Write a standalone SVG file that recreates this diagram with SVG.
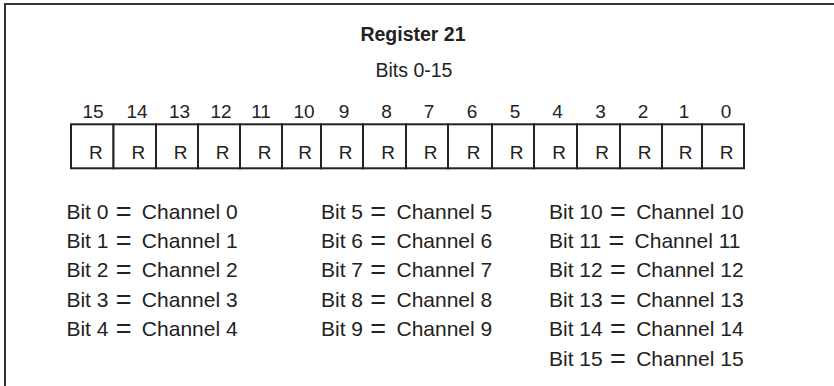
<svg xmlns="http://www.w3.org/2000/svg" width="834" height="386" viewBox="0 0 834 386">
<style>
text{font-family:"Liberation Sans",Arial,Helvetica,sans-serif;fill:#222}
.title{font-size:19.5px;font-weight:bold;text-anchor:middle}
.sub{font-size:19.5px;text-anchor:middle}
.num{font-size:19px;text-anchor:middle}
.r{font-size:19px;text-anchor:middle}
.bit{font-size:21px}
.eq{font-size:27px}
.frame{fill:none;stroke:#333;stroke-width:2}
.cell{fill:#fff;stroke:#222;stroke-width:2}
</style>
<rect width="834" height="386" fill="#fff"/>
<g id="frame">
<polyline class="frame" points="5,386 5,4 834,4"/>
</g>
<g id="header">
<text class="title" x="413" y="40.7">Register 21</text>
<text class="sub" x="414" y="76.7">Bits 0-15</text>
</g>
<g id="register">
<rect class="cell" x="71" y="124.3" width="42.5" height="44"/>
<rect class="cell" x="113.5" y="124.3" width="42.5" height="44"/>
<rect class="cell" x="156" y="124.3" width="42" height="44"/>
<rect class="cell" x="198" y="124.3" width="42" height="44"/>
<rect class="cell" x="240" y="124.3" width="42" height="44"/>
<rect class="cell" x="282" y="124.3" width="39" height="44"/>
<rect class="cell" x="321" y="124.3" width="42" height="44"/>
<rect class="cell" x="363" y="124.3" width="43" height="44"/>
<rect class="cell" x="406" y="124.3" width="42" height="44"/>
<rect class="cell" x="448" y="124.3" width="44" height="44"/>
<rect class="cell" x="492" y="124.3" width="42" height="44"/>
<rect class="cell" x="534" y="124.3" width="43" height="44"/>
<rect class="cell" x="577" y="124.3" width="43" height="44"/>
<rect class="cell" x="620" y="124.3" width="42" height="44"/>
<rect class="cell" x="662" y="124.3" width="40" height="44"/>
<rect class="cell" x="702" y="124.3" width="42" height="44"/>
<text class="num" x="93" y="118">15</text>
<text class="num" x="137" y="118">14</text>
<text class="num" x="179.5" y="118">13</text>
<text class="num" x="221" y="118">12</text>
<text class="num" x="261" y="118">11</text>
<text class="num" x="304" y="118">10</text>
<text class="num" x="344" y="118">9</text>
<text class="num" x="386.5" y="118">8</text>
<text class="num" x="429" y="118">7</text>
<text class="num" x="472" y="118">6</text>
<text class="num" x="515" y="118">5</text>
<text class="num" x="557.5" y="118">4</text>
<text class="num" x="600.5" y="118">3</text>
<text class="num" x="643" y="118">2</text>
<text class="num" x="684" y="118">1</text>
<text class="num" x="726" y="118">0</text>
<text class="r" x="95.75" y="159">R</text>
<text class="r" x="138.25" y="159">R</text>
<text class="r" x="180.5" y="159">R</text>
<text class="r" x="222.5" y="159">R</text>
<text class="r" x="264.5" y="159">R</text>
<text class="r" x="305" y="159">R</text>
<text class="r" x="345.5" y="159">R</text>
<text class="r" x="388" y="159">R</text>
<text class="r" x="430.5" y="159">R</text>
<text class="r" x="473.5" y="159">R</text>
<text class="r" x="516.5" y="159">R</text>
<text class="r" x="559" y="159">R</text>
<text class="r" x="602" y="159">R</text>
<text class="r" x="644.5" y="159">R</text>
<text class="r" x="685.5" y="159">R</text>
<text class="r" x="726.5" y="159">R</text>
</g>
<g id="legend-col1">
<text class="bit" x="66.4" y="218.5">Bit 0 <tspan class="eq" dx="1.5" dy="2">=</tspan><tspan dx="4.5" dy="-2"> Channel 0</tspan></text>
<text class="bit" x="66.4" y="248">Bit 1 <tspan class="eq" dx="1.5" dy="2">=</tspan><tspan dx="4.5" dy="-2"> Channel 1</tspan></text>
<text class="bit" x="66.4" y="277.3">Bit 2 <tspan class="eq" dx="1.5" dy="2">=</tspan><tspan dx="4.5" dy="-2"> Channel 2</tspan></text>
<text class="bit" x="66.4" y="306.7">Bit 3 <tspan class="eq" dx="1.5" dy="2">=</tspan><tspan dx="4.5" dy="-2"> Channel 3</tspan></text>
<text class="bit" x="66.4" y="336">Bit 4 <tspan class="eq" dx="1.5" dy="2">=</tspan><tspan dx="4.5" dy="-2"> Channel 4</tspan></text>
</g>
<g id="legend-col2">
<text class="bit" x="321" y="218.5">Bit 5 <tspan class="eq" dx="1.5" dy="2">=</tspan><tspan dx="4.5" dy="-2"> Channel 5</tspan></text>
<text class="bit" x="321" y="248">Bit 6 <tspan class="eq" dx="1.5" dy="2">=</tspan><tspan dx="4.5" dy="-2"> Channel 6</tspan></text>
<text class="bit" x="321" y="277.3">Bit 7 <tspan class="eq" dx="1.5" dy="2">=</tspan><tspan dx="4.5" dy="-2"> Channel 7</tspan></text>
<text class="bit" x="321" y="306.7">Bit 8 <tspan class="eq" dx="1.5" dy="2">=</tspan><tspan dx="4.5" dy="-2"> Channel 8</tspan></text>
<text class="bit" x="321" y="336">Bit 9 <tspan class="eq" dx="1.5" dy="2">=</tspan><tspan dx="4.5" dy="-2"> Channel 9</tspan></text>
</g>
<g id="legend-col3">
<text class="bit" x="549" y="218.5">Bit 10 <tspan class="eq" dx="1.5" dy="2">=</tspan><tspan dx="4.5" dy="-2"> Channel 10</tspan></text>
<text class="bit" x="549" y="248">Bit 11 <tspan class="eq" dx="1.5" dy="2">=</tspan><tspan dx="4.5" dy="-2"> Channel 11</tspan></text>
<text class="bit" x="549" y="277.3">Bit 12 <tspan class="eq" dx="1.5" dy="2">=</tspan><tspan dx="4.5" dy="-2"> Channel 12</tspan></text>
<text class="bit" x="549" y="306.7">Bit 13 <tspan class="eq" dx="1.5" dy="2">=</tspan><tspan dx="4.5" dy="-2"> Channel 13</tspan></text>
<text class="bit" x="549" y="336">Bit 14 <tspan class="eq" dx="1.5" dy="2">=</tspan><tspan dx="4.5" dy="-2"> Channel 14</tspan></text>
<text class="bit" x="549" y="365.5">Bit 15 <tspan class="eq" dx="1.5" dy="2">=</tspan><tspan dx="4.5" dy="-2"> Channel 15</tspan></text>
</g>
</svg>
